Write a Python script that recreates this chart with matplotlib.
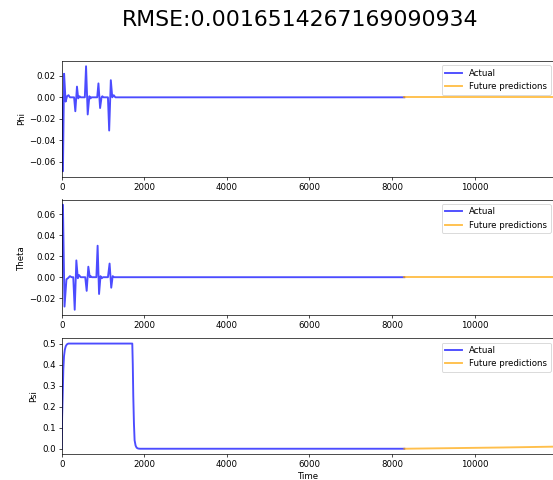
import matplotlib
matplotlib.use("Agg")
import matplotlib.pyplot as plt

# ---- data ----
rmse_text = "RMSE:0.0016514267169090934"

phi_t = [0, 10, 30, 58, 95, 130, 165, 200,
         300, 330, 370, 400, 430, 460,
         560, 590, 630, 670, 700, 720,
         860, 890, 930, 965, 985, 1010,
         1120, 1150, 1190, 1225, 1260, 1300, 8300]
phi_v = [0.0, -0.069, -0.069, 0.022, -0.004, 0.001, 0.002, 0.0,
         0.0, -0.013, 0.010, -0.001, 0.001, 0.0,
         0.0, 0.029, -0.016, 0.001, -0.001, 0.0,
         0.0, 0.013, -0.010, 0.0, 0.001, 0.0,
         0.0, -0.031, 0.016, 0.0, 0.002, 0.0, 0.0]

theta_t = [0, 10, 30, 68, 115, 150, 200, 240,
           280, 315, 355, 390, 420, 460,
           570, 605, 645, 680, 700, 730,
           840, 870, 905, 940, 970, 1000,
           1120, 1160, 1200, 1235, 1270, 8300]
theta_v = [0.0, 0.069, 0.069, -0.028, -0.002, -0.001, 0.001, 0.0,
           0.0, -0.031, 0.016, -0.001, 0.002, 0.0,
           0.0, -0.013, 0.010, 0.0, 0.001, 0.0,
           0.0, 0.030, -0.016, 0.001, -0.001, 0.0,
           0.0, 0.013, -0.010, 0.001, 0.0, 0.0]

psi_t = [0, 10, 24, 40, 56, 75, 97, 125, 160, 1710, 1722, 1734, 1750, 1766, 1790, 1815, 1850, 1895, 8300]
psi_v = [0.0, 0.15, 0.25, 0.38, 0.44, 0.47, 0.487, 0.496, 0.5, 0.5, 0.40, 0.25, 0.12, 0.04, 0.015, 0.005, 0.001, 0.0, 0.0]

fut_t = [8300, 9500, 10700, 11950]
fut_phi = [0.0, 0.0, 0.0, 0.0]
fut_theta = [0.0, 0.0, 0.0, 0.0]
fut_psi = [0.0, 0.003, 0.006, 0.010]

x_max = 11950
labels = ["Phi", "Theta", "Psi"]

# ---- figure ----
dpi = 62
fig = plt.figure(figsize=(553 / dpi, 480 / dpi), dpi=dpi)

left = 61.7 / 553
width = (555 - 61.7) / 553
rows = [(61, 176.5), (199.5, 315), (338.3, 454)]

actual = [(phi_t, phi_v), (theta_t, theta_v), (psi_t, psi_v)]
future = [fut_phi, fut_theta, fut_psi]

for i, (top, bot) in enumerate(rows):
    ax = fig.add_axes([left, 1 - bot / 480, width, (bot - top) / 480])
    t, v = actual[i]
    ax.plot(t, v, color="blue", alpha=0.7, lw=2.2, label="Actual")
    ax.plot(fut_t, future[i], color="orange", alpha=0.7, lw=2.2, label="Future predictions")
    ax.set_xlim(0, x_max)
    ax.set_ylabel(labels[i])
    ax.legend(loc="upper right")
    if i == 2:
        ax.set_xlabel("Time")

fig.text(300 / 553, 1 - 20 / 480, rmse_text, ha="center", va="center", fontsize=25.5)

fig.savefig("out.png", dpi=dpi)
